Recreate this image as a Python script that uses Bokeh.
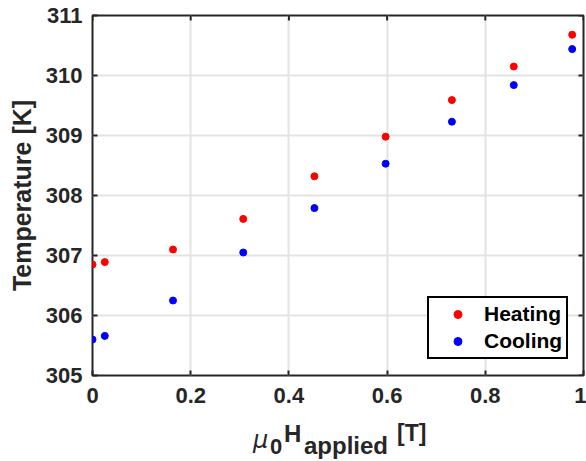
from bokeh.plotting import figure
from bokeh.layouts import column
from bokeh.models import (ColumnDataSource, Range1d, FixedTicker,
                          Legend, LegendItem, Div)
from bokeh.embed import file_html
from bokeh.resources import INLINE
import math

# ---- data ----
field_T = [0.0, 0.025, 0.164, 0.307, 0.452, 0.597, 0.732, 0.858, 0.977]
heating_K = [306.85, 306.89, 307.10, 307.61, 308.32, 308.98, 309.59, 310.15, 310.68]
cooling_K = [305.60, 305.66, 306.25, 307.05, 307.79, 308.53, 309.23, 309.84, 310.44]
x_ticks = [0, 0.2, 0.4, 0.6, 0.8, 1]
y_ticks = [305, 306, 307, 308, 309, 310, 311]
series_names = ["Heating", "Cooling"]
y_label = "Temperature [K]"
x_label_parts = ["\u03bc", "0", "H", "applied", "[T]"]

FONT = "Liberation Sans"
DARK = "#262626"

p = figure(width=586, height=412, output_backend="svg", toolbar_location=None,
           x_range=Range1d(x_ticks[0], x_ticks[-1]),
           y_range=Range1d(y_ticks[0], y_ticks[-1]),
           min_border_left=92, min_border_right=3, min_border_top=15,
           min_border_bottom=37)
p.background_fill_color = "white"
p.border_fill_color = "white"
p.outline_line_color = DARK
p.outline_line_width = 2

p.xgrid.ticker = FixedTicker(ticks=x_ticks)
p.ygrid.ticker = FixedTicker(ticks=y_ticks)
for g in (p.xgrid[0], p.ygrid[0]):
    g.grid_line_color = "#e3e3e3"
    g.grid_line_width = 2

# mirrored tick marks on top and right edges (box on)
p.scatter(x=x_ticks, y=[y_ticks[-1]] * len(x_ticks), marker="dash", angle=math.pi / 2,
          size=10, line_color=DARK, line_width=2)
p.scatter(x=[x_ticks[-1]] * len(y_ticks), y=y_ticks, marker="dash",
          size=10, line_color=DARK, line_width=2)

src = ColumnDataSource(dict(x=field_T, h=heating_K, c=cooling_K))
rh = p.scatter("x", "h", source=src, size=7, color="#ff0000")
rc = p.scatter("x", "c", source=src, size=7, color="#0000ff")

def style_axis(ax, ticks):
    ax.ticker = FixedTicker(ticks=ticks)
    ax.major_tick_in = 5
    ax.major_tick_out = 0
    ax.minor_tick_in = 0
    ax.minor_tick_out = 0
    ax.major_tick_line_color = DARK
    ax.major_tick_line_width = 2
    ax.axis_line_color = None
    ax.major_label_text_font = FONT
    ax.major_label_text_font_style = "bold"
    ax.major_label_text_font_size = "22px"
    ax.major_label_text_color = DARK

style_axis(p.xaxis[0], x_ticks)
style_axis(p.yaxis[0], y_ticks)
p.xaxis[0].major_label_overrides = {0: "0", 1: "1"}
p.xaxis[0].major_label_standoff = 12
p.yaxis[0].major_label_standoff = 10

p.yaxis[0].axis_label = y_label
p.yaxis[0].axis_label_text_font = FONT
p.yaxis[0].axis_label_text_font_style = "bold"
p.yaxis[0].axis_label_text_font_size = "25px"
p.yaxis[0].axis_label_text_color = DARK
p.yaxis[0].axis_label_standoff = 7

legend = Legend(items=[LegendItem(label=series_names[0], renderers=[rh]),
                       LegendItem(label=series_names[1], renderers=[rc])],
                location=(335, 16))
legend.label_text_font = FONT
legend.label_text_font_style = "bold"
legend.label_text_font_size = "21px"
legend.label_text_color = "black"
legend.border_line_color = "black"
legend.border_line_alpha = 1
legend.border_line_width = 2
legend.background_fill_color = "white"
legend.background_fill_alpha = 1
legend.padding = 4
legend.spacing = 3
legend.glyph_width = 49
legend.label_standoff = 2
legend.margin = 0
p.add_layout(legend)

# ---- x axis label (mu_0 H_applied [T]) as HTML text below the plot ----
span_styles = [
    (253, 15.5, 24, "italic", "normal", "DejaVu Sans"),
    (270, 24.4, 22, "normal", "bold", FONT),
    (284, 9.5, 24, "normal", "bold", FONT),
    (304, 21.5, 24, "normal", "bold", FONT),
    (397, 10.0, 23, "normal", "bold", FONT),
]
spans = ""
for txt, (left, top, fs, fstyle, fw, fnt) in zip(x_label_parts, span_styles):
    spans += ('<span style="position:absolute;left:%spx;top:%spx;font-size:%spx;'
              'line-height:1;font-style:%s;font-weight:%s;font-family:\'%s\';'
              'white-space:nowrap;">%s</span>' % (left, top, fs, fstyle, fw, fnt, txt))
html = ('<div style="position:relative;width:586px;height:49px;margin:0;padding:0;'
        'color:%s;background:white;overflow:hidden;">%s</div>' % (DARK, spans))
lab = Div(text=html, width=586, height=49, margin=0,
          styles={"margin": "0", "padding": "0"})

layout = column(p, lab, spacing=0)
open("out.html", "w").write(file_html(layout, INLINE))
